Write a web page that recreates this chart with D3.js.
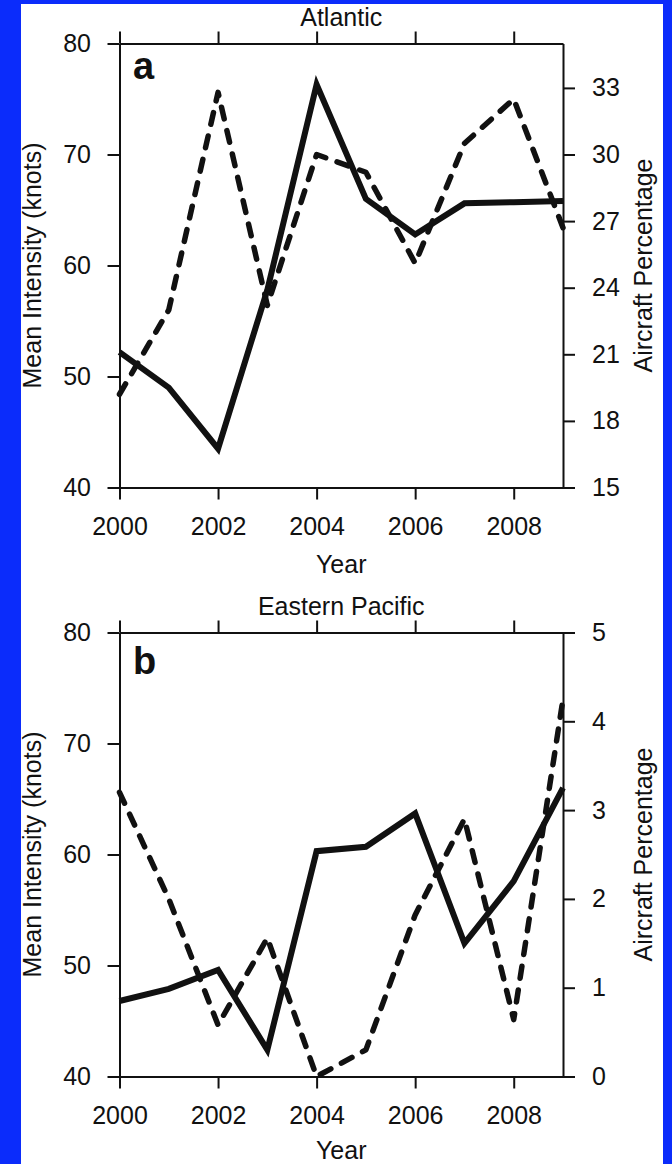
<!DOCTYPE html>
<html>
<head>
<meta charset="utf-8">
<script src="https://cdn.jsdelivr.net/npm/d3@7"></script>
<style>
  html, body { margin: 0; padding: 0; background: #fff; }
  svg { display: block; }
  text { font-family: "Liberation Sans", Arial, Helvetica, sans-serif; fill: #111; }
</style>
</head>
<body>
<svg id="chart" width="672" height="1164"></svg>
<script>
// Years shared by both basins
const years = [2000, 2001, 2002, 2003, 2004, 2005, 2006, 2007, 2008, 2009];
const yearTicks = [2000, 2002, 2004, 2006, 2008];

// Atlantic: mean intensity (knots) and aircraft reconnaissance percentage
const atlIntensity = [52.2, 49.0, 43.5, 57.8, 76.3, 66.0, 62.8, 65.6, 65.7, 65.8];
const atlAircraft  = [19.2, 23.0, 32.8, 23.2, 30.0, 29.2, 25.1, 30.5, 32.5, 26.7];

// Eastern Pacific: mean intensity (knots) and aircraft reconnaissance percentage
const epIntensity = [46.8, 47.9, 49.6, 42.4, 60.3, 60.7, 63.7, 52.0, 57.6, 66.0];
const epAircraft  = [3.2, 2.0, 0.58, 1.56, 0.0, 0.3, 1.82, 2.9, 0.64, 4.25];

// Axis tick values
const intensityTicks = [40, 50, 60, 70, 80];
const atlAircraftTicks = [15, 18, 21, 24, 27, 30, 33];
const epAircraftTicks = [0, 1, 2, 3, 4, 5];

const svg = d3.select("#chart");
const FONT = 25;
const INK = "#111";

// blue frame
svg.append("rect").attr("x", 0).attr("y", 0).attr("width", 672).attr("height", 1164).attr("fill", "#0b2cfb");
svg.append("rect").attr("x", 21).attr("y", 4).attr("width", 642).attr("height", 1160).attr("fill", "#fff");

const left = 119.5, right = 563;
const x = d3.scaleLinear().domain([2000, 2009]).range([left, right]);

function panel(cfg) {
  const g = svg.append("g");
  const yL = d3.scaleLinear().domain([40, 80]).range([cfg.bottom, cfg.top]);
  const yR = d3.scaleLinear().domain(cfg.rightDomain).range([cfg.bottom, cfg.top]);

  function styleAxis(sel) {
    sel.selectAll("path.domain").attr("stroke", INK).attr("stroke-width", 2);
    sel.selectAll(".tick line").attr("stroke", INK).attr("stroke-width", 2);
    sel.selectAll(".tick text").style("font-size", FONT + "px").attr("fill", INK)
      .style("font-family", '"Liberation Sans", Arial, sans-serif');
  }

  // bottom axis
  g.append("g").attr("transform", `translate(0,${cfg.bottom})`)
    .call(d3.axisBottom(x).tickValues(yearTicks).tickFormat(d3.format("d"))
      .tickSize(12).tickSizeOuter(0).tickPadding(18))
    .call(styleAxis);
  // top axis, ticks only
  g.append("g").attr("transform", `translate(0,${cfg.top})`)
    .call(d3.axisTop(x).tickValues(yearTicks).tickFormat("")
      .tickSize(12).tickSizeOuter(0))
    .call(styleAxis);
  // left axis
  g.append("g").attr("transform", `translate(${left},0)`)
    .call(d3.axisLeft(yL).tickValues(intensityTicks).tickFormat(d3.format("d"))
      .tickSize(12).tickSizeOuter(0).tickPadding(16.5))
    .call(styleAxis);
  // right axis
  g.append("g").attr("transform", `translate(${right},0)`)
    .call(d3.axisRight(yR).tickValues(cfg.rightTicks).tickFormat(d3.format("d"))
      .tickSize(12).tickSizeOuter(0).tickPadding(17))
    .call(styleAxis);

  // series
  const solid = d3.line().x((d, i) => x(years[i])).y(d => yL(d));
  const dashed = d3.line().x((d, i) => x(years[i])).y(d => yR(d));

  g.append("path").datum(cfg.aircraft).attr("d", dashed)
    .attr("fill", "none").attr("stroke", INK).attr("stroke-width", 5.5)
    .attr("stroke-linecap", "round").attr("stroke-linejoin", "round")
    .attr("stroke-dasharray", "12,12");
  g.append("path").datum(cfg.intensity).attr("d", solid)
    .attr("fill", "none").attr("stroke", INK).attr("stroke-width", 6)
    .attr("stroke-linejoin", "miter");

  // texts
  const cx = (left + right) / 2;
  g.append("text").attr("x", cx).attr("y", cfg.top - 17.5)
    .attr("text-anchor", "middle").style("font-size", FONT + "px").text(cfg.title);
  g.append("text").attr("x", cx).attr("y", cfg.bottom + cfg.yearDy)
    .attr("text-anchor", "middle").style("font-size", FONT + "px").text("Year");
  g.append("text").attr("transform", `translate(41,${(cfg.top + cfg.bottom) / 2}) rotate(-90)`)
    .attr("text-anchor", "middle").style("font-size", FONT + "px").text("Mean Intensity (knots)");
  g.append("text").attr("transform", `translate(652,${(cfg.top + cfg.bottom) / 2}) rotate(-90)`)
    .attr("text-anchor", "middle").style("font-size", FONT + "px").text("Aircraft Percentage");
  g.append("text").attr("x", 133).attr("y", cfg.top + cfg.letterDy)
    .style("font-size", "38px").style("font-weight", "bold").text(cfg.letter);
}

panel({
  top: 43.5, bottom: 487.5, title: "Atlantic", letter: "a", letterDy: 35.5, yearDy: 85.5,
  rightDomain: [15, 35], rightTicks: atlAircraftTicks,
  intensity: atlIntensity, aircraft: atlAircraft
});
panel({
  top: 632.5, bottom: 1076.5, title: "Eastern Pacific", letter: "b", letterDy: 41.5, yearDy: 82.5,
  rightDomain: [0, 5], rightTicks: epAircraftTicks,
  intensity: epIntensity, aircraft: epAircraft
});
</script>
</body>
</html>
